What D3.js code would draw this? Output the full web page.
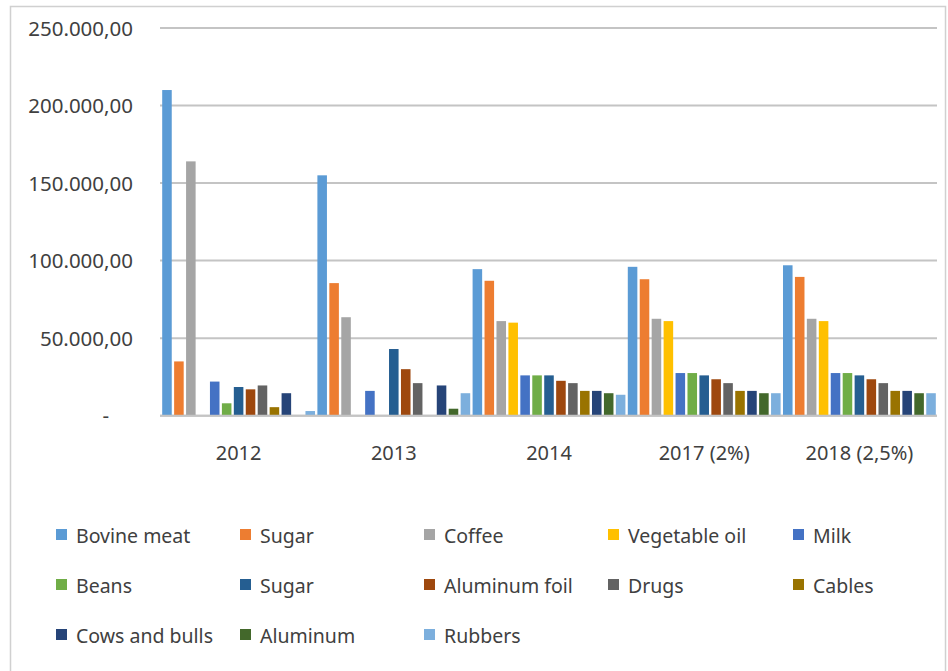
<!DOCTYPE html>
<html>
<head>
<meta charset="utf-8">
<script src="https://cdn.jsdelivr.net/npm/d3@7/dist/d3.min.js"></script>
<style>
  html, body { margin: 0; padding: 0; background: #fff; }
  svg { display: block; }
  text { font-family: "Noto Sans", "Open Sans", sans-serif; fill: #404040; }
</style>
</head>
<body>
<svg id="chart" width="948" height="671"></svg>
<script>
// Categories (years) along the x axis
const categories = ["2012", "2013", "2014", "2017 (2%)", "2018 (2,5%)"];

// Series names, in legend order
const seriesNames = ["Bovine meat", "Sugar", "Coffee", "Vegetable oil", "Milk",
  "Beans", "Sugar", "Aluminum foil", "Drugs", "Cables",
  "Cows and bulls", "Aluminum", "Rubbers"];

// Values per series, one entry per category
const bovineMeat   = [210000, 155000, 94500, 96000, 97000];
const sugar        = [35000, 85500, 87000, 88000, 89500];
const coffee       = [164000, 63500, 61000, 62500, 62500];
const vegetableOil = [0, 0, 60000, 61000, 61000];
const milk         = [22000, 16000, 26000, 27500, 27500];
const beans        = [8000, 0, 26000, 27500, 27500];
const sugar2       = [18500, 43000, 26000, 26000, 26000];
const aluminumFoil = [17000, 30000, 22500, 23500, 23500];
const drugs        = [19500, 21000, 21000, 21000, 21000];
const cables       = [5500, 0, 16000, 16000, 16000];
const cowsAndBulls = [14500, 19500, 16000, 16000, 16000];
const aluminum     = [0, 4500, 14500, 14500, 14500];
const rubbers      = [3000, 14500, 13500, 14500, 14500];

const seriesValues = [bovineMeat, sugar, coffee, vegetableOil, milk, beans, sugar2,
  aluminumFoil, drugs, cables, cowsAndBulls, aluminum, rubbers];

// Y axis tick values
const yTicks = [0, 50000, 100000, 150000, 200000, 250000];

const colors = ["#5B9BD5", "#ED7D31", "#A5A5A5", "#FFC000", "#4472C4",
  "#70AD47", "#255E91", "#9E480E", "#636363", "#997300",
  "#264478", "#43682B", "#7CAFDD"];

const svg = d3.select("#chart");

// Outer frame
svg.append("rect")
  .attr("x", 10.5).attr("y", 6.5)
  .attr("width", 935).attr("height", 700)
  .attr("fill", "none").attr("stroke", "#d0d0d0").attr("stroke-width", 1.5);

const plot = { left: 161, right: 937, top: 28, bottom: 415.7 };

const x0 = d3.scaleBand().domain(categories).range([plot.left, plot.right]).padding(0);
const seriesIdx = d3.range(seriesNames.length);
const x1 = d3.scaleBand().domain(seriesIdx).range([0, x0.bandwidth()])
  .paddingInner(0.2).paddingOuter(0.1);
const y = d3.scaleLinear().domain([0, 250000]).range([plot.bottom, plot.top]);

// Number format with "." thousands and "," decimals
const fmt = d3.formatLocale({ decimal: ",", thousands: ".", grouping: [3], currency: ["", ""] }).format(",.2f");

// Gridlines
svg.append("g")
  .selectAll("line")
  .data(yTicks)
  .join("line")
  .attr("x1", plot.left - 1).attr("x2", plot.right)
  .attr("y1", d => y(d)).attr("y2", d => y(d))
  .attr("stroke", "#c4c4c4").attr("stroke-width", 2);

// Y axis labels
const yAxis = d3.axisLeft(y).tickValues(yTicks).tickSize(0).tickPadding(0)
  .tickFormat(d => d === 0 ? "-" : fmt(d));
const yg = svg.append("g").attr("transform", `translate(133,0)`).call(yAxis);
yg.select(".domain").remove();
yg.selectAll("text")
  .attr("font-size", 20.5)
  .attr("font-family", "Noto Sans, sans-serif")
  .attr("fill", "#404040")
  .attr("dy", "0.35em")
  .attr("dx", d => d === 0 ? -24 : 0);

// Bars
const groups = svg.append("g")
  .selectAll("g")
  .data(categories)
  .join("g")
  .attr("transform", d => `translate(${x0(d)},0)`);

groups.selectAll("rect")
  .data((c, ci) => seriesIdx.map(si => ({ si, v: seriesValues[si][ci] })))
  .join("rect")
  .attr("x", d => x1(d.si))
  .attr("width", x1.bandwidth())
  .attr("y", d => y(d.v))
  .attr("height", d => y(0) - y(d.v))
  .attr("fill", d => colors[d.si]);

// Baseline over the bars
svg.append("line")
  .attr("x1", plot.left - 1).attr("x2", plot.right)
  .attr("y1", y(0)).attr("y2", y(0))
  .attr("stroke", "#c4c4c4").attr("stroke-width", 2);

// X axis labels
const xAxis = d3.axisBottom(x0).tickSize(0).tickPadding(0);
const xg = svg.append("g").attr("transform", `translate(0,${plot.bottom})`).call(xAxis);
xg.select(".domain").remove();
xg.selectAll("text")
  .attr("font-size", 20)
  .attr("font-family", "Noto Sans, sans-serif")
  .attr("fill", "#404040")
  .attr("y", 37).attr("dy", "0.35em");

// Legend: 5 columns, 3 rows
const legend = svg.append("g");
const colX = [56, 240, 424, 608, 793];
const rowY = [535, 585, 635];
const items = legend.selectAll("g")
  .data(seriesIdx)
  .join("g")
  .attr("transform", i => `translate(${colX[i % 5]},${rowY[Math.floor(i / 5)]})`);
items.append("rect")
  .attr("x", 0).attr("y", -6)
  .attr("width", 11).attr("height", 11)
  .attr("fill", i => colors[i]);
items.append("text")
  .attr("x", 20).attr("y", 1)
  .attr("dy", "0.35em")
  .attr("font-size", 19.5)
  .text(i => seriesNames[i]);
</script>
</body>
</html>
